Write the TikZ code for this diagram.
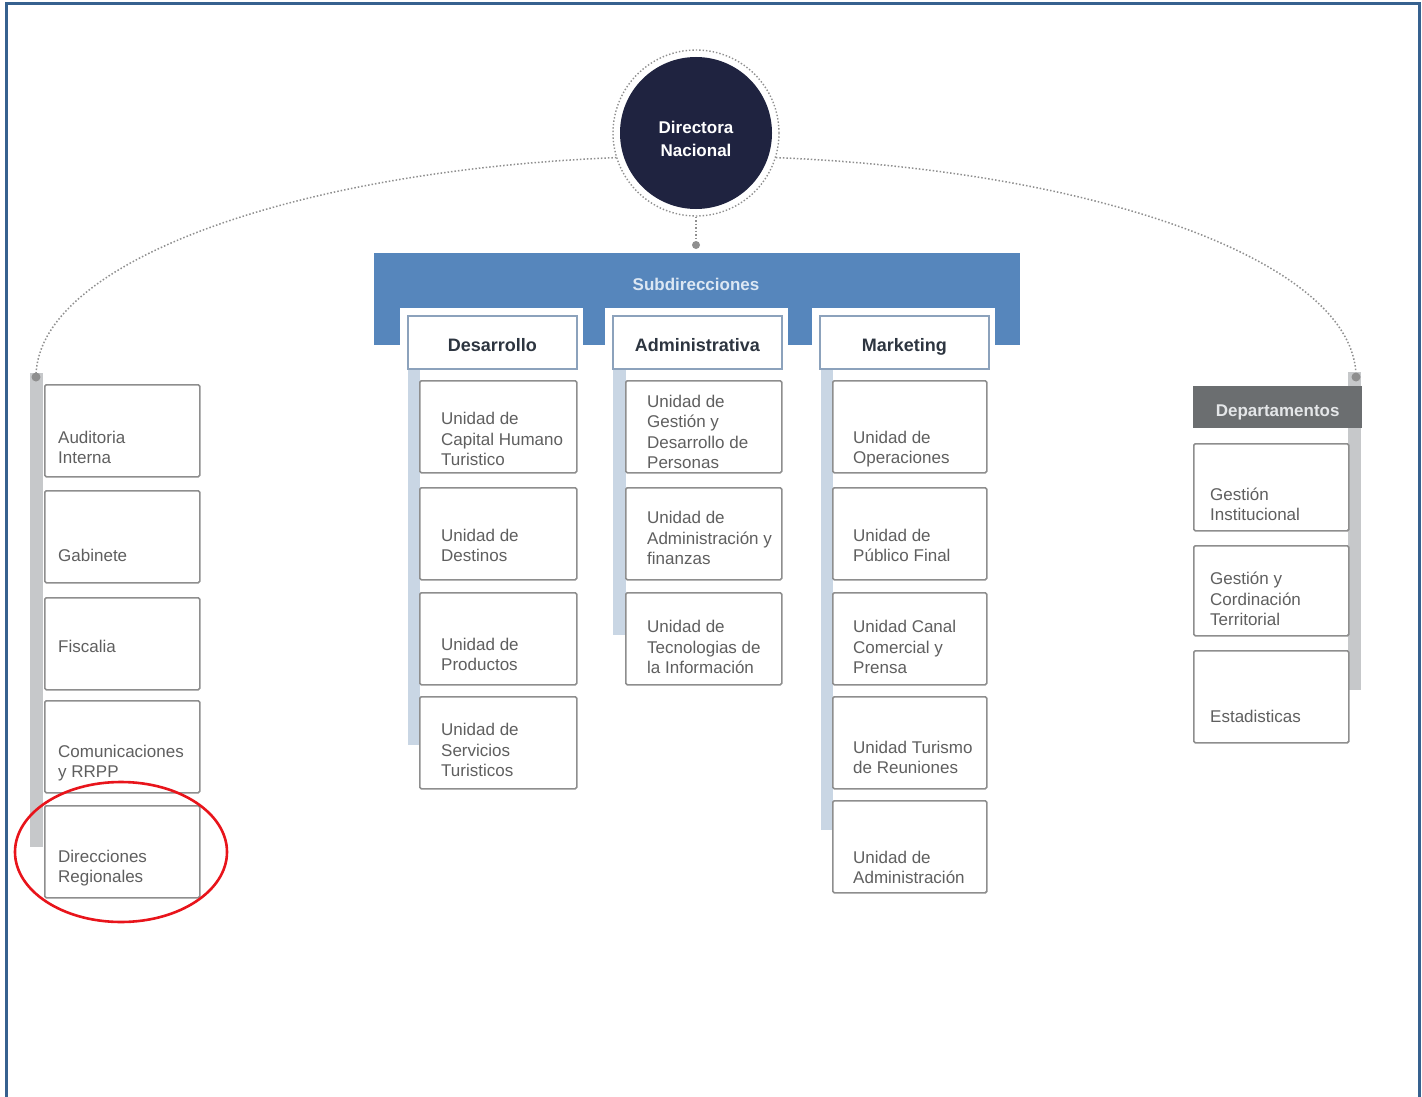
\documentclass[tikz,border=0pt]{standalone}
\usepackage{fontspec}
\setmainfont{Liberation Sans}
\usetikzlibrary{positioning}

\definecolor{frameblue}{HTML}{36618F}
\definecolor{bandblue}{HTML}{5686BC}
\definecolor{bandtxt}{HTML}{DCE7F3}
\definecolor{navy}{HTML}{1F2340}
\definecolor{hdrborder}{HTML}{8CA2BC}
\definecolor{headtxt}{HTML}{2D3540}
\definecolor{barblue}{HTML}{C9D6E4}
\definecolor{bargray}{HTML}{C6C8CA}
\definecolor{boxgray}{HTML}{8E8E8E}
\definecolor{txtgray}{HTML}{5F5F5F}
\definecolor{deptgray}{HTML}{6B6E70}
\definecolor{depttxt}{HTML}{E4E6E8}
\definecolor{dotgray}{HTML}{8F8F8F}
\definecolor{circred}{HTML}{E8141B}

\tikzset{
  unitbox/.style={draw=boxgray, line width=1.6pt, fill=white, rounded corners=1.5pt, inner sep=0pt, anchor=north west},
  unittxt/.style={text=txtgray, font=\fontsize{17}{20.5}\selectfont, align=left, inner sep=0pt, anchor=south west, text depth=0pt},
  headbox/.style={draw=hdrborder, line width=1.6pt, fill=white, minimum width=169pt, minimum height=53pt, inner sep=0pt, anchor=north west, text=headtxt, text height=19pt, text depth=0pt, font=\bfseries\fontsize{18}{20}\selectfont},
  arcline/.style={dotgray, line width=1.5pt, dash pattern=on 1.5pt off 2pt},
}

\begin{document}
\begin{tikzpicture}[x=1pt, y=-1pt]
    \useasboundingbox (0,0) rectangle (1422,1097);
    \draw[frameblue, line width=3pt] (6.5,1097) -- (6.5,3.5) -- (1419.5,3.5) -- (1419.5,1097);

    % dotted arc from the director to both side columns
    \coordinate (lend) at (36,377);
    \coordinate (rend) at (1356,377);
    \draw[arcline] (lend) arc[start angle=180, end angle=0, x radius=660pt, y radius=221pt];

    \node[circle, draw=dotgray, dotted, line width=1.4pt, fill=white, minimum size=166pt] (ring) at (696,133) {};
    \node[circle, fill=navy, minimum size=152pt] (dir) at (696,133) {};
    \node[text=white, align=center, font=\bfseries\fontsize{17}{23}\selectfont] (dirtxt) at (696,139) {Directora\\Nacional};

    \node[circle, fill=dotgray, inner sep=0pt, minimum size=8pt] (subdot) at (696,245) {};
    \draw[arcline] (ring) -- (subdot);

    % subdirecciones band
    \node[fill=bandblue, minimum width=646pt, minimum height=92pt, inner sep=0pt, anchor=north west] (subs) at (374,253) {};
    \node[text=bandtxt, font=\bfseries\fontsize{17}{20}\selectfont] (substxt) at (696,284) {Subdirecciones};

    \fill[barblue] (408,368) rectangle (420,745);
    \fill[barblue] (613,368) rectangle (626,635);
    \fill[barblue] (821,368) rectangle (833,830);
    \foreach \x/\n/\lbl in {400/des/Desarrollo, 605/adm/Administrativa, 812/mkt/Marketing} {
      \fill[white] (\x,308) rectangle ++(183,40);
      \node[headbox] (\n) at (\x+7,315) {\lbl};
    }

    % Desarrollo
    \foreach \y/\base/\lbl [count=\i] in {380/466/{Unidad de\\Capital Humano\\Turistico}, 487/562/{Unidad de\\Destinos}, 592/671/{Unidad de\\Productos}, 696/777/{Unidad de\\Servicios\\Turisticos}} {
      \node[unitbox, minimum width=157pt, minimum height=92pt] (des\i) at (419,\y) {};
      \node[unittxt] (dest\i) at (441,\base) {\lbl};
    }
    % Administrativa
    \foreach \y/\base/\lbl [count=\i] in {380/469/{Unidad de\\Gestión y\\Desarrollo de\\Personas}, 487/565/{Unidad de\\Administración y\\finanzas}, 592/674/{Unidad de\\Tecnologias de\\la Información}} {
      \node[unitbox, minimum width=156pt, minimum height=92pt] (adm\i) at (625,\y) {};
      \node[unittxt] (admt\i) at (647,\base) {\lbl};
    }
    % Marketing
    \foreach \y/\base/\lbl [count=\i] in {380/464/{Unidad de\\Operaciones}, 487/562/{Unidad de\\Público Final}, 592/674/{Unidad Canal\\Comercial y\\Prensa}, 696/774/{Unidad Turismo\\de Reuniones}, 800/884/{Unidad de\\Administración}} {
      \node[unitbox, minimum width=154pt, minimum height=92pt] (mkt\i) at (832,\y) {};
      \node[unittxt] (mktt\i) at (853,\base) {\lbl};
    }

    % left column
    \fill[bargray] (30,373) rectangle (43,847);
    \node[circle, fill=dotgray, inner sep=0pt, minimum size=9pt] (ldot) at (lend) {};
    \foreach \y/\base/\lbl [count=\i] in {384/464/{Auditoria\\Interna}, 490/562/{Gabinete}, 597/653/{Fiscalia}, 700/778/{Comunicaciones\\y RRPP}, 805/883/{Direcciones\\Regionales}} {
      \node[unitbox, minimum width=155pt, minimum height=92pt] (aux\i) at (44,\y) {};
      \node[unittxt] (auxt\i) at (58,\base) {\lbl};
    }

    % right column
    \fill[bargray] (1348,372) rectangle (1361,690);
    \node[circle, fill=dotgray, inner sep=0pt, minimum size=9pt] (rdot) at (rend) {};
    \node[fill=deptgray, minimum width=169pt, minimum height=42pt, inner sep=0pt, anchor=north west, text=depttxt, text height=18pt, text depth=0pt, font=\bfseries\fontsize{17}{20}\selectfont] (dept) at (1193,386) {Departamentos};
    \foreach \y/\h/\base/\lbl [count=\i] in {443/87/521/{Gestión\\Institucional}, 545/90/626/{Gestión y\\Cordinación\\Territorial}, 650/92/723/{Estadisticas}} {
      \node[unitbox, minimum width=155pt, minimum height=\h pt] (dep\i) at (1193,\y) {};
      \node[unittxt] (dept\i) at (1210,\base) {\lbl};
    }

    \draw[circred, line width=2.6pt] (121,852) ellipse [x radius=106pt, y radius=70pt];
  \end{tikzpicture}
\end{document}
